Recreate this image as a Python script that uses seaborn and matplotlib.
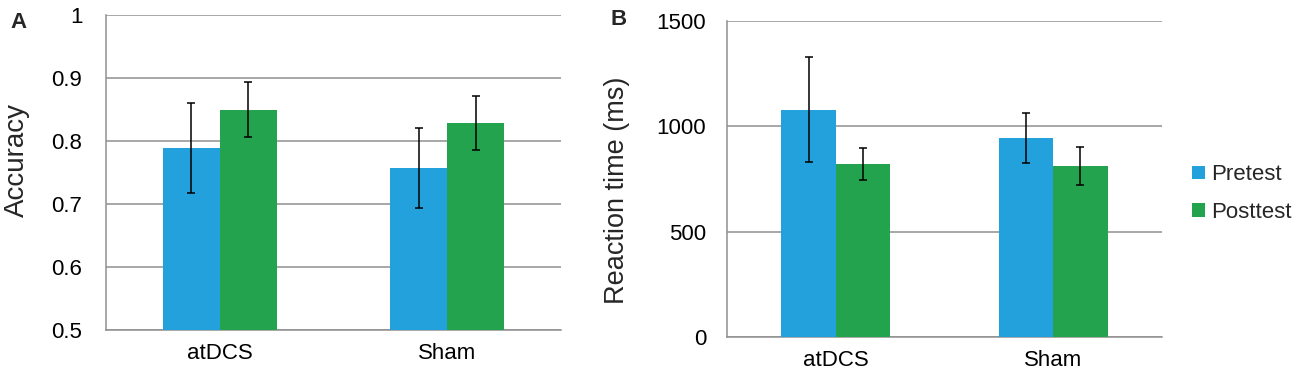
import numpy as np
import pandas as pd
import matplotlib
matplotlib.use("Agg")
import matplotlib.pyplot as plt
import seaborn as sns

# Values
conditions = ["atDCS", "Sham"]
phases = ["Pretest", "Posttest"]

acc_pre = [0.789, 0.757]
acc_post = [0.850, 0.829]
acc_pre_err = [0.072, 0.063]
acc_post_err = [0.043, 0.043]

rt_pre = [1079, 946]
rt_post = [820, 813]
rt_pre_err = [248, 119]
rt_post_err = [77, 90]

acc_ticks = [0.5, 0.6, 0.7, 0.8, 0.9, 1.0]
acc_tick_labels = ["0.5", "0.6", "0.7", "0.8", "0.9", "1"]
rt_ticks = [0, 500, 1000, 1500]

palette = {"Pretest": "#23A1DC", "Posttest": "#23A34E"}
grid_grey = "#8f8f8f"

sns.set_style("white")
plt.rcParams["font.family"] = ["Liberation Sans", "DejaVu Sans"]


def long_frame(pre, post):
    return pd.DataFrame({
        "condition": conditions * 2,
        "phase": [phases[0]] * len(conditions) + [phases[1]] * len(conditions),
        "value": list(pre) + list(post),
    })


def draw_panel(ax, pre, post, pre_err, post_err, ylim, ticks, tick_labels, ypad):
    df = long_frame(pre, post)
    sns.barplot(data=df, x="condition", y="value", hue="phase", order=conditions,
                hue_order=phases, palette=palette, saturation=1, width=0.5,
                errorbar=None, legend=True, ax=ax, zorder=3, linewidth=0,
                edgecolor="none")
    # error bars at the bar centres
    for container, errs in zip(ax.containers, [pre_err, post_err]):
        xs = [b.get_x() + b.get_width() / 2 for b in container]
        ys = [b.get_height() for b in container]
        ax.errorbar(xs, ys, yerr=errs, fmt="none", ecolor="black",
                    elinewidth=1.1, capsize=2.8, capthick=1.1, zorder=4)
    ax.set_xlim(-0.5, len(conditions) - 0.5)
    ax.set_ylim(*ylim)
    ax.set_yticks(ticks)
    ax.set_yticklabels(tick_labels)
    ax.set_xlabel("")
    ax.set_ylabel("")
    ax.yaxis.grid(True, color=grid_grey, linewidth=1.1, zorder=0)
    ax.xaxis.grid(False)
    ax.set_axisbelow(True)
    for side in ["top", "right"]:
        ax.spines[side].set_visible(False)
    for side in ["left", "bottom"]:
        ax.spines[side].set_color(grid_grey)
        ax.spines[side].set_linewidth(1.1)
    ax.tick_params(axis="y", length=4, color=grid_grey, width=1.1, pad=ypad,
                   labelsize=16, labelcolor="black")
    ax.tick_params(axis="x", which="major", length=0, pad=9, labelsize=16,
                   labelcolor="black")
    ax.set_xticks(np.arange(-0.5, len(conditions), 1.0), minor=True)
    ax.tick_params(axis="x", which="minor", length=5, color=grid_grey, width=1.1,
                   direction="out")


fig = plt.figure(figsize=(13, 3.76), dpi=100)
ax_a = fig.add_axes([0.0815, 0.1223, 0.35, 0.8378])
ax_b = fig.add_axes([0.5592, 0.1037, 0.3346, 0.8404])

draw_panel(ax_a, acc_pre, acc_post, acc_pre_err, acc_post_err, (0.5, 1.0),
           acc_ticks, acc_tick_labels, 13)
ax_a.get_legend().remove()

draw_panel(ax_b, rt_pre, rt_post, rt_pre_err, rt_post_err, (0, 1500),
           rt_ticks, [str(t) for t in rt_ticks], 11)
handles, labels = ax_b.get_legend_handles_labels()
ax_b.get_legend().remove()
ax_b.legend(handles, labels, loc="center left", bbox_to_anchor=(1.07, 0.454),
            frameon=False, fontsize=16, handlelength=0.55, handleheight=0.55,
            handletextpad=0.3, labelspacing=0.75, borderpad=0, borderaxespad=0)

fig.text(0.013, 0.574, "Accuracy", rotation=90, ha="center", va="center", fontsize=20)
fig.text(0.4746, 0.495, "Reaction time (ms)", rotation=90, ha="center", va="center",
         fontsize=19.5)
fig.text(0.0142, 0.941, "A", ha="center", va="center", fontsize=16, fontweight="bold")
fig.text(0.4762, 0.947, "B", ha="center", va="center", fontsize=16, fontweight="bold")

fig.savefig("out.png", dpi=100)
